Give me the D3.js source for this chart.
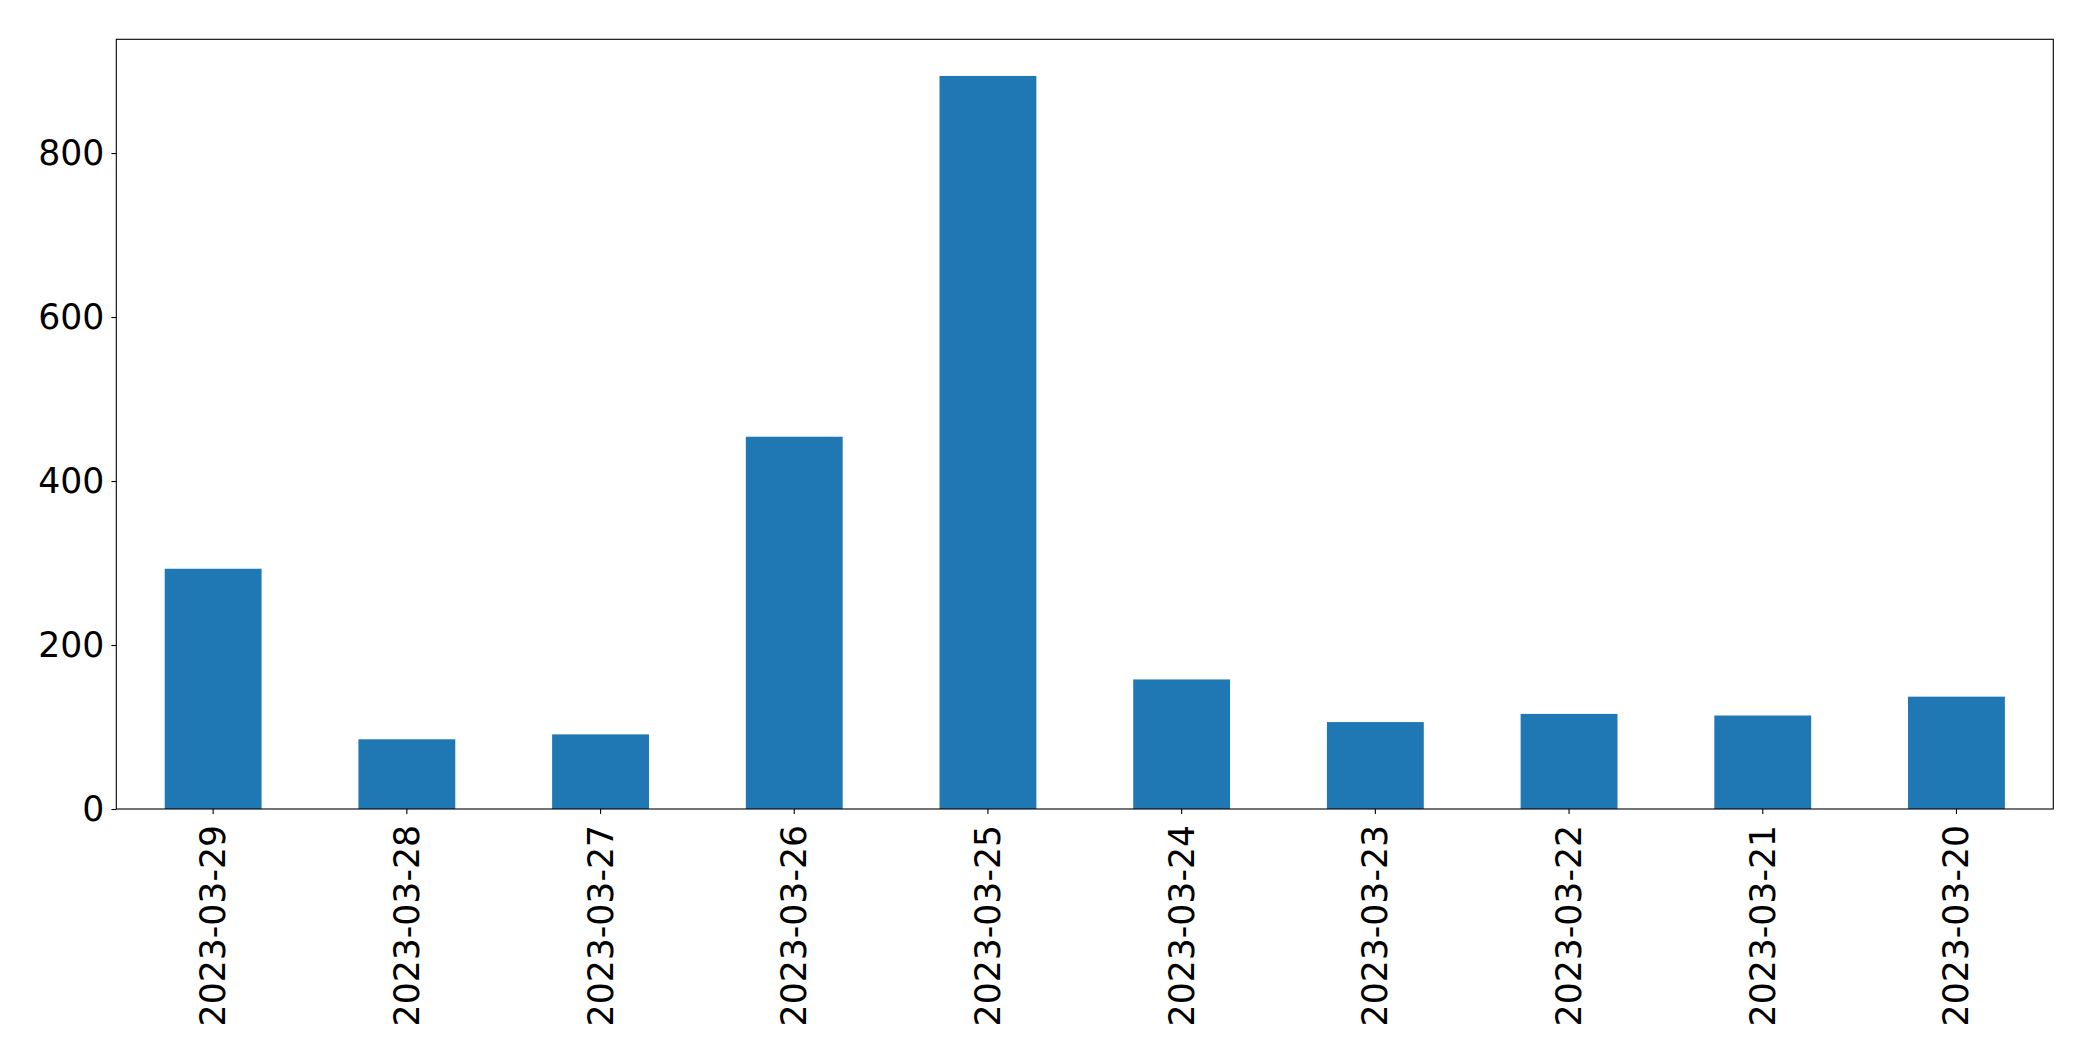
<!DOCTYPE html>
<html>
<head>
<meta charset="utf-8">
<script src="https://cdn.jsdelivr.net/npm/d3@7"></script>
<style>
  html, body { margin: 0; padding: 0; background: #fff; }
  svg { display: block; }
  text { font-family: "DejaVu Sans", sans-serif; }
</style>
</head>
<body>
<script>
const categories = ["2023-03-29","2023-03-28","2023-03-27","2023-03-26","2023-03-25","2023-03-24","2023-03-23","2023-03-22","2023-03-21","2023-03-20"];
const values = [293, 85, 91, 454, 894, 158, 106, 116, 114, 137];
const yTicks = [0, 200, 400, 600, 800];

const W = 2093, H = 1061;
const margin = {left: 116.3, right: W - 2053.3, top: 39.3, bottom: H - 809};
const fontSize = 34.67;
const barColor = "#1f77b4";

const svg = d3.select("body").append("svg").attr("width", W).attr("height", H);

const x = d3.scaleBand().domain(categories)
  .range([margin.left, W - margin.right]).paddingInner(0.5).paddingOuter(0.25);
const yMax = 938.7;
const y = d3.scaleLinear().domain([0, yMax]).range([H - margin.bottom, margin.top]);

// bars
svg.append("g").selectAll("rect").data(values).join("rect")
  .attr("x", (d, i) => x(categories[i]))
  .attr("width", x.bandwidth())
  .attr("y", d => y(d))
  .attr("height", d => y(0) - y(d))
  .attr("fill", barColor);

// y axis
const yAxis = svg.append("g").attr("transform", `translate(${margin.left},0)`)
  .call(d3.axisLeft(y).tickValues(yTicks).tickFormat(d3.format("d")).tickSize(4.9).tickPadding(7));
yAxis.select(".domain").remove();
yAxis.selectAll("line").attr("stroke", "#000").attr("stroke-width", 1.1);
yAxis.selectAll("text").attr("font-size", fontSize).attr("fill", "#000")
  .attr("font-family", "DejaVu Sans, sans-serif");

// x axis
const xAxis = svg.append("g").attr("transform", `translate(0,${H - margin.bottom})`)
  .call(d3.axisBottom(x).tickSize(4.9).tickPadding(0));
xAxis.select(".domain").remove();
xAxis.selectAll("line").attr("stroke", "#000").attr("stroke-width", 1.1);
xAxis.selectAll("text")
  .attr("font-size", fontSize).attr("fill", "#000")
  .attr("font-family", "DejaVu Sans, sans-serif")
  .attr("text-anchor", "end")
  .attr("dy", null)
  .attr("y", null)
  .attr("dominant-baseline", "central")
  .attr("transform", "translate(0,16) rotate(-90)");

// frame
svg.append("rect")
  .attr("x", margin.left).attr("y", margin.top)
  .attr("width", W - margin.left - margin.right)
  .attr("height", H - margin.top - margin.bottom)
  .attr("fill", "none").attr("stroke", "#000").attr("stroke-width", 1.1);
</script>
</body>
</html>
